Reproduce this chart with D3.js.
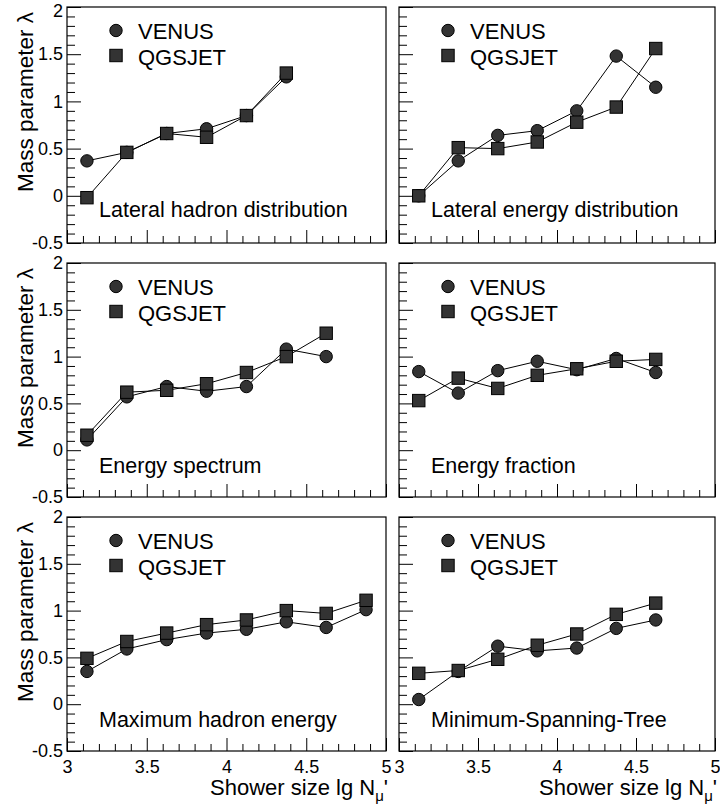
<!DOCTYPE html>
<html>
<head>
<meta charset="utf-8">
<script src="https://cdn.jsdelivr.net/npm/d3@7"></script>
<style>
body { margin: 0; background: #fff; }
text { font-family: "Liberation Sans", Arial, Helvetica, sans-serif; fill: #000; }
</style>
</head>
<body>
<div id="chart"></div>
<script>
// bin centres of lg N_mu'
var xBins = [3.125, 3.375, 3.625, 3.875, 4.125, 4.375, 4.625, 4.875];
var yTickValues = [-0.5, 0, 0.5, 1, 1.5, 2];
var xTickValues = [3, 3.5, 4, 4.5, 5];
var xTickLabels = ["3", "3.5", "4", "4.5", "5"];
var seriesNames = ["VENUS", "QGSJET"];
var panelTitles = ["Lateral hadron distribution", "Lateral energy distribution",
    "Energy spectrum", "Energy fraction",
    "Maximum hadron energy", "Minimum-Spanning-Tree"];

var venusLatHadron = [0.37, 0.46, 0.66, 0.71, 0.85, 1.26];
var qgsjetLatHadron = [-0.02, 0.46, 0.66, 0.62, 0.85, 1.30];
var venusLatEnergy = [0.0, 0.37, 0.64, 0.69, 0.90, 1.48, 1.15];
var qgsjetLatEnergy = [0.0, 0.51, 0.50, 0.57, 0.78, 0.94, 1.56];
var venusSpectrum = [0.11, 0.57, 0.68, 0.63, 0.68, 1.08, 1.00];
var qgsjetSpectrum = [0.16, 0.62, 0.64, 0.71, 0.83, 1.00, 1.25];
var venusFraction = [0.84, 0.61, 0.85, 0.95, 0.86, 0.98, 0.83];
var qgsjetFraction = [0.53, 0.77, 0.66, 0.80, 0.87, 0.95, 0.97];
var venusMaxHadron = [0.35, 0.59, 0.69, 0.76, 0.80, 0.88, 0.82, 1.01];
var qgsjetMaxHadron = [0.49, 0.67, 0.76, 0.85, 0.90, 1.00, 0.97, 1.11];
var venusMST = [0.05, 0.35, 0.62, 0.57, 0.60, 0.81, 0.90];
var qgsjetMST = [0.33, 0.36, 0.48, 0.63, 0.75, 0.96, 1.08];

var panelSeries = [
    [venusLatHadron, qgsjetLatHadron],
    [venusLatEnergy, qgsjetLatEnergy],
    [venusSpectrum, qgsjetSpectrum],
    [venusFraction, qgsjetFraction],
    [venusMaxHadron, qgsjetMaxHadron],
    [venusMST, qgsjetMST]
];

var width = 720, height = 812;
var cols = [[67, 386], [399, 715]];
var rows = [[7, 243], [263, 497], [517, 751]];

var svg = d3.select("#chart").append("svg")
    .attr("width", width)
    .attr("height", height);

var minorY = d3.range(-4, 20).filter(function (i) { return i % 5 !== 0; }).map(function (i) { return i / 10; });
var minorX = d3.range(31, 50).filter(function (i) { return i % 5 !== 0; }).map(function (i) { return i / 10; });

function drawMarker(g, kind, cx, cy) {
    if (kind === 0) {
        g.append("circle").attr("cx", cx).attr("cy", cy).attr("r", 6.2)
            .attr("fill", "#333").attr("stroke", "#000").attr("stroke-width", 1);
    } else {
        g.append("rect").attr("x", cx - 6.2).attr("y", cy - 6.2).attr("width", 12.4).attr("height", 12.4)
            .attr("fill", "#333").attr("stroke", "#000").attr("stroke-width", 1);
    }
}

panelTitles.forEach(function (title, p) {
    var col = cols[p % 2], row = rows[Math.floor(p / 2)];
    var bottomRow = Math.floor(p / 2) === 2;

    var x = d3.scaleLinear().domain([3, 5]).range(col);
    var y = d3.scaleLinear().domain([-0.5, 2]).range([row[1], row[0]]);

    var g = svg.append("g");

    // minor ticks
    g.append("g").attr("transform", "translate(" + col[0] + ",0)")
        .call(d3.axisLeft(y).tickValues(minorY).tickSize(-8).tickFormat(""));
    g.append("g").attr("transform", "translate(0," + row[1] + ")")
        .call(d3.axisBottom(x).tickValues(minorX).tickSize(-7).tickFormat(""));

    // major ticks
    var yAxis = g.append("g").attr("transform", "translate(" + col[0] + ",0)")
        .call(d3.axisLeft(y).tickValues(yTickValues).tickSize(-14).tickPadding(4)
            .tickFormat(function (d) { return String(d); }));
    var xAxis = g.append("g").attr("transform", "translate(0," + row[1] + ")")
        .call(d3.axisBottom(x).tickValues(xTickValues).tickSize(-13).tickPadding(9)
            .tickFormat(function (d, i) { return bottomRow ? xTickLabels[i] : ""; }));

    g.selectAll(".domain").remove();
    g.selectAll(".tick line").attr("stroke", "#000").attr("stroke-width", 1);
    yAxis.selectAll("text").attr("font-size", 18).attr("fill", "#000")
        .attr("font-family", "Liberation Sans, Arial, sans-serif");
    xAxis.selectAll("text").attr("font-size", 18).attr("fill", "#000")
        .attr("font-family", "Liberation Sans, Arial, sans-serif");
    if (p % 2 === 1) yAxis.selectAll("text").remove();
    if (!bottomRow) xAxis.selectAll("text").remove();
    // keep the top "2" inside the picture
    if (p < 2) yAxis.selectAll(".tick").filter(function (d) { return d === 2; })
        .select("text").attr("y", 4);

    // frame
    g.append("rect")
        .attr("x", col[0]).attr("y", row[0])
        .attr("width", col[1] - col[0]).attr("height", row[1] - row[0])
        .attr("fill", "none").attr("stroke", "#000").attr("stroke-width", 1.2);

    // lines and markers
    var line = d3.line()
        .x(function (d, i) { return x(xBins[i]); })
        .y(function (d) { return y(d); });

    panelSeries[p].forEach(function (vals) {
        g.append("path").attr("d", line(vals))
            .attr("fill", "none").attr("stroke", "#000").attr("stroke-width", 1);
    });
    panelSeries[p].forEach(function (vals, s) {
        vals.forEach(function (v, i) { drawMarker(g, s, x(xBins[i]), y(v)); });
    });

    // legend
    seriesNames.forEach(function (name, s) {
        drawMarker(g, s, col[0] + 49, row[0] + 23.5 + s * 25);
        g.append("text").attr("x", col[0] + 71).attr("y", row[0] + 31.5 + s * 26)
            .attr("font-size", 22).text(name);
    });

    // panel title
    g.append("text").attr("x", col[0] + 32).attr("y", row[0] + 210)
        .attr("font-size", 21.5).text(title);

    // y axis title
    if (p % 2 === 0) {
        g.append("text")
            .attr("transform", "translate(33," + (row[0] + 95) + ") rotate(-90)")
            .attr("text-anchor", "middle").attr("font-size", 22.5)
            .text("Mass parameter \u03bb");
    }

    // x axis title
    if (bottomRow) {
        var t = g.append("text").attr("x", col[1] + 2).attr("y", 795)
            .attr("text-anchor", "end").attr("font-size", 22);
        t.append("tspan").text("Shower size lg N");
        t.append("tspan").attr("font-size", 15).attr("dy", 6).text("\u03bc");
        t.append("tspan").attr("dy", -6).text("'");
    }
});
</script>
</body>
</html>
